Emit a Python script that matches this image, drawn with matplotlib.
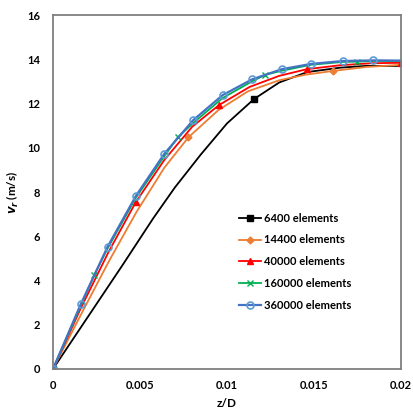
import matplotlib
matplotlib.use("Agg")
import matplotlib.pyplot as plt

plt.rcParams.update({
    "font.family": ["Lato", "DejaVu Sans"],
    "font.size": 8,
    "font.weight": "bold",
    "mathtext.fontset": "dejavusans",
})

# ============================
# Data (z/D, v_r in m/s)
# ============================
z_6400 = [0, 0.002, 0.004, 0.00575, 0.007, 0.0085, 0.010, 0.01155, 0.013, 0.0146, 0.0165, 0.018, 0.020]
v_6400 = [0, 2.35, 4.70, 6.80, 8.20, 9.70, 11.10, 12.20, 12.95, 13.42, 13.62, 13.70, 13.70]
mk_6400 = [0, 7]

z_14400 = [0, 0.0016, 0.0032, 0.0048, 0.0064, 0.00778, 0.0095, 0.0112, 0.013, 0.0145, 0.01607, 0.018, 0.020]
v_14400 = [0, 2.45, 4.85, 7.10, 9.10, 10.47, 11.70, 12.55, 13.05, 13.30, 13.47, 13.65, 13.75]
mk_14400 = [0, 5, 10]

z_40000 = [0, 0.0016, 0.0032, 0.00475, 0.0064, 0.008, 0.00954, 0.0113, 0.013, 0.01458, 0.0165, 0.0183, 0.020]
v_40000 = [0, 2.75, 5.30, 7.53, 9.45, 10.95, 11.93, 12.75, 13.25, 13.55, 13.73, 13.82, 13.84]
mk_40000 = [0, 3, 6, 9, 12]

z_160000 = [0, 0.00159, 0.00237, 0.00314, 0.00477, 0.0064, 0.00717, 0.00806, 0.00975, 0.01144,
            0.01218, 0.01314, 0.01483, 0.01665, 0.01749, 0.0184, 0.020]
v_160000 = [0, 2.85, 4.25, 5.45, 7.75, 9.62, 10.47, 11.12, 12.25, 13.00,
            13.29, 13.48, 13.75, 13.88, 13.89, 13.92, 13.92]
mk_160000 = [0, 2, 6, 10, 14]

z_360000 = [0, 0.00159, 0.00314, 0.00477, 0.0064, 0.00806, 0.00975, 0.01144, 0.01314, 0.01483, 0.01665, 0.01841, 0.020]
v_360000 = [0, 2.92, 5.53, 7.83, 9.73, 11.25, 12.38, 13.09, 13.55, 13.79, 13.92, 13.95, 13.94]
mk_360000 = list(range(12))

x_ticks = [0, 0.005, 0.01, 0.015, 0.02]
x_tick_labels = ["0", "0.005", "0.01", "0.015", "0.02"]
y_ticks = [0, 2, 4, 6, 8, 10, 12, 14, 16]

# ============================
# Figure
# ============================
fig = plt.figure(figsize=(4.13, 4.09), dpi=100)
ax = fig.add_axes([0.1283, 0.0978, 0.8427, 0.8655])

ax.plot(z_6400, v_6400, color="black", lw=1.3, marker="s", ms=5,
        markevery=mk_6400, label="6400 elements")
ax.plot(z_14400, v_14400, color="#ED7D31", lw=1.3, marker="D", ms=3.5,
        markevery=mk_14400, label="14400 elements")
ax.plot(z_40000, v_40000, color="#FF0000", lw=1.3, marker="^", ms=5,
        markevery=mk_40000, label="40000 elements")
ax.plot(z_160000, v_160000, color="#00B050", lw=1.3, marker="x", ms=4, mew=1.0,
        markevery=mk_160000, label="160000 elements")
ax.plot(z_360000, v_360000, color="#4472C4", lw=1.6, marker="o", ms=5,
        mfc="none", mec="#5B9BD5", mew=1.2,
        markevery=mk_360000, label="360000 elements")

ax.set_xlim(0, 0.02)
ax.set_ylim(0, 16)
ax.set_xticks(x_ticks)
ax.set_xticklabels(x_tick_labels)
ax.set_yticks(y_ticks)
ax.tick_params(length=0, pad=9, labelsize=8)
ax.tick_params(axis="x", pad=8)

for s in ax.spines.values():
    s.set_color("#7F7F7F")
    s.set_linewidth(1.3)

ax.set_xlabel("z/D", fontsize=8.5, fontweight="bold", labelpad=5)
ax.set_ylabel(r"$v_r$ (m/s)", fontsize=8.5, fontweight="bold", labelpad=5)

leg = ax.legend(loc="upper left", bbox_to_anchor=(0.506, 0.47), frameon=False,
                handlelength=2.0, handletextpad=0.2, labelspacing=0.97,
                prop={"size": 8, "weight": "bold"})

fig.savefig("out.png", dpi=100)
